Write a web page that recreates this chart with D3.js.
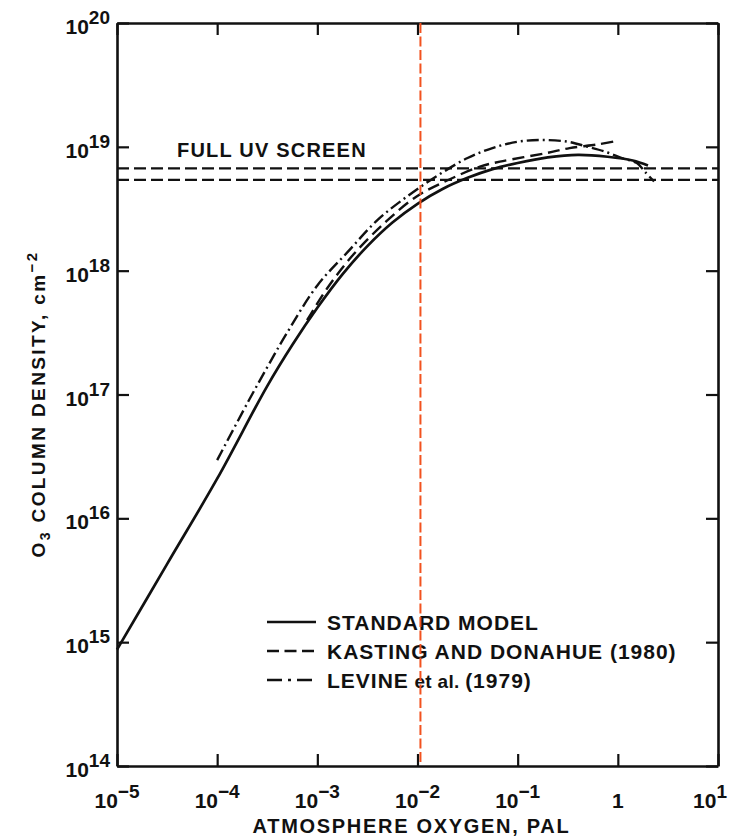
<!DOCTYPE html>
<html>
<head>
<meta charset="utf-8">
<script src="https://cdn.jsdelivr.net/npm/d3@7"></script>
<style>
  html, body { margin: 0; padding: 0; background: #fff; }
  svg { display: block; }
  text { font-family: "Liberation Sans", Arial, Helvetica, sans-serif; font-weight: bold; fill: #111; }
</style>
</head>
<body>
<script>
// ---------- data ----------
const O2_TICKS = [1e-5, 1e-4, 1e-3, 1e-2, 1e-1, 1, 10];
const O2_TICK_BASE = ["10", "10", "10", "10", "10", "1", "10"];
const O2_TICK_EXP = ["\u22125", "\u22124", "\u22123", "\u22122", "\u22121", "", "1"];

const O3_TICKS = [1e14, 1e15, 1e16, 1e17, 1e18, 1e19, 1e20];
const O3_TICK_EXP = ["14", "15", "16", "17", "18", "19", "20"];

// Standard model (solid)
const STD_O2 = [1e-5, 3.16e-5, 1e-4, 3.16e-4, 5.62e-4, 1e-3, 1.78e-3, 3.16e-3, 5.62e-3, 1e-2, 1.78e-2, 3.16e-2, 5.62e-2, 0.1, 0.2, 0.4, 0.79, 1.41, 2.0];
const STD_O3 = [8.7e14, 4.27e15, 2.09e16, 1.17e17, 2.51e17, 5.01e17, 9.33e17, 1.58e18, 2.45e18, 3.47e18, 4.57e18, 5.62e18, 6.61e18, 7.41e18, 8.22e18, 8.61e18, 8.32e18, 7.76e18, 7.08e18];

// Kasting and Donahue (1980) (dashed)
const KD_O2 = [7.9e-4, 1.26e-3, 2.29e-3, 4.9e-3, 9.8e-3, 2e-2, 4.2e-2, 6.64e-2, 0.195, 0.33, 0.63, 1.0];
const KD_O3 = [3.98e17, 7.24e17, 1.35e18, 2.51e18, 3.98e18, 5.37e18, 6.92e18, 7.59e18, 8.91e18, 9.77e18, 1.047e19, 1.12e19];

// Levine et al. (1979) (dash-dot)
const LEV_O2 = [1e-4, 2e-4, 3.16e-4, 5e-4, 1e-3, 2e-3, 4e-3, 7.9e-3, 1.6e-2, 3.16e-2, 5.6e-2, 0.1, 0.178, 0.316, 0.5, 0.79, 1.1, 1.55, 1.86, 2.3];
const LEV_O3 = [2.95e16, 8.5e16, 1.66e17, 3.16e17, 7.6e17, 1.41e18, 2.57e18, 3.98e18, 5.89e18, 8.13e18, 9.77e18, 1.10e19, 1.135e19, 1.10e19, 1.0e19, 9.0e18, 8.1e18, 7.4e18, 6.3e18, 5.25e18];

// Full UV screen levels
const UV_SCREEN = [6.7e18, 5.4e18];
const UV_LABEL = "FULL UV SCREEN";

// Red marker
const MARKER_O2 = 0.0107;

const LEGEND_LABELS = ["STANDARD MODEL", "KASTING AND DONAHUE (1980)", "LEVINE"];

// ---------- drawing ----------
const W = 738, H = 837;
const M = { left: 117, right: 718, top: 23, bottom: 766 };

const svg = d3.select("body").append("svg").attr("width", W).attr("height", H);
svg.append("rect").attr("width", W).attr("height", H).attr("fill", "#fff");

const x = d3.scaleLog().domain([1e-5, 10]).range([M.left, M.right]);
const y = d3.scaleLog().domain([1e14, 1e20]).range([M.bottom, M.top]);

const INK = "#111";

function styleAxis(g) {
  g.selectAll("path.domain").attr("stroke", INK).attr("stroke-width", 2.6);
  g.selectAll(".tick line").attr("stroke", INK).attr("stroke-width", 2.2);
  g.selectAll(".tick text").remove();
}

svg.append("g").attr("transform", `translate(0,${M.bottom})`)
  .call(d3.axisBottom(x).tickValues(O2_TICKS).tickSize(-12).tickSizeOuter(0).tickFormat(""))
  .call(styleAxis);
svg.append("g").attr("transform", `translate(0,${M.top})`)
  .call(d3.axisTop(x).tickValues(O2_TICKS).tickSize(-12).tickSizeOuter(0).tickFormat(""))
  .call(styleAxis);
svg.append("g").attr("transform", `translate(${M.left},0)`)
  .call(d3.axisLeft(y).tickValues(O3_TICKS).tickSize(-12).tickSizeOuter(0).tickFormat(""))
  .call(styleAxis);
svg.append("g").attr("transform", `translate(${M.right},0)`)
  .call(d3.axisRight(y).tickValues(O3_TICKS).tickSize(-12).tickSizeOuter(0).tickFormat(""))
  .call(styleAxis);

// x tick labels
O2_TICKS.forEach((v, i) => {
  const t = svg.append("text")
    .attr("x", x(v) + (i === O2_TICKS.length - 1 ? -8 : 0))
    .attr("y", 808)
    .attr("text-anchor", "middle")
    .attr("font-size", 21);
  t.append("tspan").text(O2_TICK_BASE[i]);
  if (O2_TICK_EXP[i]) t.append("tspan").attr("dy", -10).attr("font-size", 19).text(O2_TICK_EXP[i]);
});

// y tick labels
O3_TICKS.forEach((v, i) => {
  const t = svg.append("text")
    .attr("x", 110)
    .attr("y", y(v) + 11)
    .attr("text-anchor", "end")
    .attr("font-size", 21);
  t.append("tspan").text("10");
  t.append("tspan").attr("dy", -10).attr("font-size", 19).text(O3_TICK_EXP[i]);
});

// axis titles
svg.append("text")
  .attr("x", (M.left + M.right) / 2 - 6)
  .attr("y", 833)
  .attr("text-anchor", "middle")
  .attr("font-size", 20)
  .attr("letter-spacing", 1.7)
  .text("ATMOSPHERE OXYGEN, PAL");

const yt = svg.append("text")
  .attr("transform", "translate(45,404) rotate(-90)")
  .attr("text-anchor", "middle")
  .attr("font-size", 19)
  .attr("letter-spacing", 2.4);
yt.append("tspan").text("O");
yt.append("tspan").attr("dy", 5).attr("font-size", 14).text("3");
yt.append("tspan").attr("dy", -5).text(" COLUMN DENSITY, cm");
yt.append("tspan").attr("dy", -8).attr("font-size", 15).text("\u22122");

// UV screen lines
UV_SCREEN.forEach(v => {
  svg.append("line")
    .attr("x1", M.left).attr("x2", M.right)
    .attr("y1", y(v)).attr("y2", y(v))
    .attr("stroke", INK).attr("stroke-width", 2.3)
    .attr("stroke-dasharray", "12,5");
});
svg.append("text")
  .attr("x", 177).attr("y", 157)
  .attr("font-size", 20).attr("letter-spacing", 1.2)
  .text(UV_LABEL);

// curves
const line = d3.line()
  .x(d => x(d[0])).y(d => y(d[1]))
  .curve(d3.curveCatmullRom.alpha(0.5));

const series = [
  { xs: STD_O2, ys: STD_O3, dash: null, w: 2.7 },
  { xs: KD_O2, ys: KD_O3, dash: "12,6", w: 2.4 },
  { xs: LEV_O2, ys: LEV_O3, dash: "12,4,2,4", w: 2.4 }
];
series.forEach(s => {
  svg.append("path")
    .datum(d3.zip(s.xs, s.ys))
    .attr("d", line)
    .attr("fill", "none")
    .attr("stroke", INK)
    .attr("stroke-width", s.w)
    .attr("stroke-dasharray", s.dash);
});

// legend
const legY = [622, 651, 680];
const legDash = [null, "12,5.5", "15,6,3,6"];
legY.forEach((ly, i) => {
  svg.append("line")
    .attr("x1", 267).attr("x2", 316)
    .attr("y1", ly).attr("y2", ly)
    .attr("stroke", INK).attr("stroke-width", 2.5)
    .attr("stroke-dasharray", legDash[i]);
  const t = svg.append("text")
    .attr("x", 327).attr("y", ly + 8)
    .attr("font-size", 21).attr("letter-spacing", 1);
  t.append("tspan").text(LEGEND_LABELS[i]);
  if (i === 2) {
    t.append("tspan").attr("font-size", 19).attr("letter-spacing", 0.3).text(" et al. ");
    t.append("tspan").text("(1979)");
  }
});

// red marker line
svg.append("line")
  .attr("x1", x(MARKER_O2)).attr("x2", x(MARKER_O2))
  .attr("y1", M.top).attr("y2", M.bottom - 4)
  .attr("stroke", "#f2521f").attr("stroke-width", 2)
  .attr("stroke-dasharray", "10,3.5");
</script>
</body>
</html>
